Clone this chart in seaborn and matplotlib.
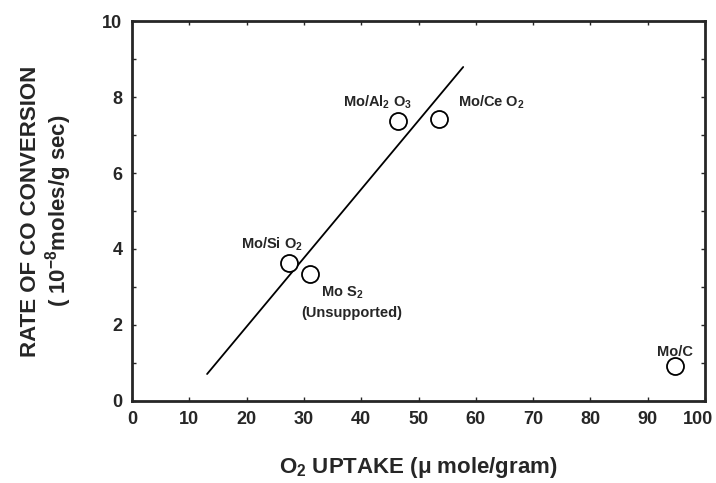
import matplotlib
matplotlib.use("Agg")
import matplotlib.pyplot as plt
import matplotlib.transforms as mtransforms
import seaborn as sns
import pandas as pd
from matplotlib.ticker import MultipleLocator

catalysts = ["Mo/SiO2", "MoS2", "Mo/Al2O3", "Mo/CeO2", "Mo/C"]
o2_uptake = [27.4, 31.1, 46.4, 53.6, 94.8]
co_rate = [3.63, 3.34, 7.37, 7.42, 0.92]

fit_x = [13.1, 57.8]
fit_y = [0.71, 8.79]

x_ticks = [0, 10, 20, 30, 40, 50, 60, 70, 80, 90, 100]
y_ticks = [0, 2, 4, 6, 8, 10]

labels = [
    ("Mo/Si O$_2$", 24.4, 4.0),
    ("Mo S$_2$", 36.6, 2.74),
    ("(Unsupported)", 38.4, 2.21),
    ("Mo/Al$_2$ O$_3$", 42.8, 7.74),
    ("Mo/Ce O$_2$", 62.8, 7.74),
    ("Mo/C", 94.8, 1.18),
]

sns.set_style("ticks")
plt.rcParams["font.family"] = ["Liberation Sans", "DejaVu Sans"]
plt.rcParams["font.weight"] = "bold"
plt.rcParams["mathtext.default"] = "regular"

df = pd.DataFrame({"catalyst": catalysts, "uptake": o2_uptake, "rate": co_rate})
fit = pd.DataFrame({"x": fit_x, "y": fit_y})

fig = plt.figure(figsize=(7.16, 4.83), dpi=100)
ax = fig.add_axes([0.1844, 0.1698, 0.8002, 0.7867])

sns.lineplot(data=fit, x="x", y="y", ax=ax, color="black", linewidth=1.3)
sns.scatterplot(data=df, x="uptake", y="rate", ax=ax, s=150, marker="o",
                facecolor="white", edgecolor="black", linewidth=1.3, zorder=3)

for txt, tx, ty in labels:
    ax.text(tx, ty, txt, fontsize=10.5, fontweight="bold", ha="center", va="baseline")

ax.set_xlim(0, 100)
ax.set_ylim(0, 10)
ax.set_xticks(x_ticks)
ax.set_yticks(y_ticks)
ax.yaxis.set_minor_locator(MultipleLocator(1))
ax.tick_params(axis="both", which="both", direction="in", top=True, right=True,
               labelsize=13, length=3, width=1, pad=7)
for lab in ax.get_xticklabels() + ax.get_yticklabels():
    lab.set_fontweight("bold")
last = ax.get_xticklabels()[-1]
last.set_transform(last.get_transform() + mtransforms.ScaledTranslation(-7 / 100, 0, fig.dpi_scale_trans))
for sp in ax.spines.values():
    sp.set_visible(True)
    sp.set_linewidth(2)

ax.set_xlabel("O$_2$ UPTAKE (μ mole/gram)", fontsize=16, fontweight="bold", labelpad=20)
ax.set_ylabel("RATE OF CO CONVERSION\n( 10$^{-8}$moles/g sec)", fontsize=16,
              fontweight="bold", labelpad=20, linespacing=1.1)

fig.savefig("out.png", dpi=100)
